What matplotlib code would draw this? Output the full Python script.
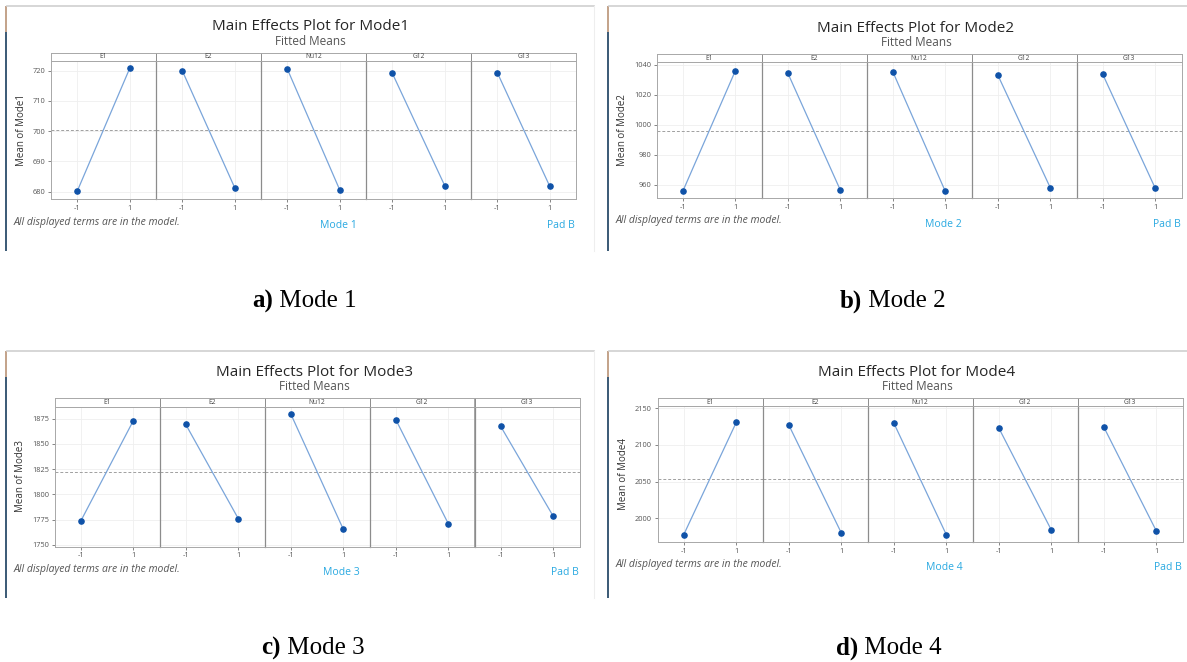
import matplotlib
matplotlib.use('Agg')
import matplotlib.pyplot as plt
from matplotlib.lines import Line2D
from matplotlib.patches import Rectangle

# 因子名称与各模态的拟合均值（低水平 -1 / 高水平 1）
factors = ['E1', 'E2', 'Nu12', 'G12', 'G13']
levels = [-1, 1]

mode1_low = [680.2, 720.0, 720.6, 719.2, 719.4]
mode1_high = [720.8, 681.3, 680.6, 682.0, 681.8]
mode1_mean = 700.4

mode2_low = [955.7, 1034.7, 1035.6, 1033.4, 1033.8]
mode2_high = [1036.0, 956.7, 955.8, 958.2, 957.8]
mode2_mean = 995.9

mode3_low = [1773.5, 1869.4, 1879.9, 1874.3, 1867.4]
mode3_high = [1873.0, 1776.0, 1765.5, 1771.0, 1778.3]
mode3_mean = 1822.6

mode4_low = [1978.0, 2127.3, 2130.0, 2123.2, 2124.5]
mode4_high = [2130.7, 1980.5, 1978.2, 1984.5, 1983.2]
mode4_mean = 2053.5

mode_names = ['Mode1', 'Mode2', 'Mode3', 'Mode4']
captions = ['a', 'b', 'c', 'd']
lows = [mode1_low, mode2_low, mode3_low, mode4_low]
highs = [mode1_high, mode2_high, mode3_high, mode4_high]
means = [mode1_mean, mode2_mean, mode3_mean, mode4_mean]
yticks = [[680, 690, 700, 710, 720],
          [960, 980, 1000, 1020, 1040],
          [1750, 1775, 1800, 1825, 1850, 1875],
          [2000, 2050, 2100, 2150]]

# 每个面板的像素布局：截图框 (x0, y0, x1, y1)，绘图区左边、条带顶、条带底、底边，y 轴范围，图注分隔位置
panels = [
    dict(frame=(5, 6, 594, 251), left=51, stop=53, sbot=61, bot=199,
         ylim=(677.6, 723.2), cap=273),
    dict(frame=(607, 6, 1187, 251), left=656.5, stop=54, sbot=62, bot=198,
         ylim=(951.3, 1042), cap=862),
    dict(frame=(5, 351, 594, 598), left=54.5, stop=398, sbot=406.5, bot=546.5,
         ylim=(1748.3, 1887.2), cap=281),
    dict(frame=(607, 351, 1187, 598), left=657.5, stop=398, sbot=406, bot=542,
         ylim=(1968, 2153), cap=858),
]
sub_w = 105

W, H = 1187, 662
plt.rcParams['font.family'] = ['Open Sans', 'DejaVu Sans']
fig = plt.figure(figsize=(W / 100, H / 100), dpi=100)
fig.patch.set_facecolor('white')


def px_axes(x, y, w, h):
    return fig.add_axes([x / W, 1 - (y + h) / H, w / W, h / H])


def px_text(x, y, s, **kw):
    fig.text(x / W, 1 - y / H, s, **kw)


line_c = '#7aa5da'
dot_c = '#0f52a8'
frame_c = '#a8a8a8'
cyan = '#29a9e1'

for k, p in enumerate(panels):
    x0, y0, x1, y1 = p['frame']
    # 截图边框：左侧色条与顶部灰线
    fig.add_artist(Rectangle((x0 / W, 1 - y1 / H), 2.2 / W, (y1 - y0) / H,
                             transform=fig.transFigure, color='#3f5d78', lw=0))
    fig.add_artist(Rectangle((x0 / W, 1 - (y0 + 26) / H), 2.2 / W, 26 / H,
                             transform=fig.transFigure, color='#c4a48c', lw=0))
    fig.add_artist(Line2D([(x0 + 2) / W, x1 / W], [1 - y0 / H] * 2,
                          transform=fig.transFigure, color='#cfcfcf', lw=1.2))
    if x1 < W:
        fig.add_artist(Line2D([x1 / W] * 2, [1 - y0 / H, 1 - y1 / H],
                              transform=fig.transFigure, color='#eeeeee', lw=0.8))

    left, stop, sbot, bot = p['left'], p['stop'], p['sbot'], p['bot']
    cx = left + 5 * sub_w / 2
    name = mode_names[k]
    px_text(cx - 3, stop - 26, 'Main Effects Plot for ' + name, ha='center', va='center',
            fontsize=11, color='#262626')
    px_text(cx - 3, stop - 11.5, 'Fitted Means', ha='center', va='center',
            fontsize=8.5, color='#555555')

    for i, f in enumerate(factors):
        xl = left + i * sub_w
        ax = px_axes(xl, sbot, sub_w, bot - sbot)
        ax.plot(levels, [lows[k][i], highs[k][i]], color=line_c, lw=0.9, zorder=2)
        ax.scatter(levels, [lows[k][i], highs[k][i]], s=14, color=dot_c, zorder=3)
        ax.axhline(means[k], color='#a0a0a0', lw=0.7, ls=(0, (3, 2)), zorder=1)
        ax.set_xlim(-2, 2)
        ax.set_ylim(*p['ylim'])
        ax.set_xticks(levels)
        ax.set_xticklabels(['-1', '1'])
        ax.set_yticks(yticks[k])
        ax.grid(True, color='#efefef', lw=0.6)
        ax.set_axisbelow(True)
        ax.tick_params(axis='both', labelsize=5.3, colors='#555555', length=2, width=0.5,
                       pad=2)
        for s in ax.spines.values():
            s.set_color(frame_c)
            s.set_linewidth(0.7)
        if i > 0:
            ax.tick_params(axis='y', left=False, labelleft=False)
            ax.spines['left'].set_color('#8c8c8c')
            ax.spines['left'].set_linewidth(0.9)
        else:
            ax.set_ylabel('Mean of ' + name, fontsize=7, color='#333333', labelpad=4)

        sax = px_axes(xl, stop, sub_w, sbot - stop)
        sax.set_xticks([])
        sax.set_yticks([])
        for s in sax.spines.values():
            s.set_color(frame_c)
            s.set_linewidth(0.7)
        if i > 0:
            sax.spines['left'].set_color('#8c8c8c')
        sax.text(0.5, 0.5, f, ha='center', va='center', fontsize=4.8, color='#444444',
                 transform=sax.transAxes)

    fy = bot + 23
    px_text(x0 + 9, fy, 'All displayed terms are in the model.', ha='left', va='center',
            fontsize=7.5, style='italic', color='#555555')
    px_text(left + 287, fy + 3, 'Mode ' + name[-1], ha='center', va='center',
            fontsize=7.5, color=cyan)
    px_text(left + 510, fy + 3, 'Pad B', ha='center', va='center',
            fontsize=7.5, color=cyan)

    # 图注
    cap_x = p['cap']
    cap_y = y1 + 50
    fig.text(cap_x / W, 1 - cap_y / H, captions[k] + ')', ha='right', va='center',
             fontsize=18, fontweight='bold', family='Liberation Serif')
    fig.text(cap_x / W, 1 - cap_y / H, ' Mode ' + name[-1], ha='left', va='center',
             fontsize=18, family='Liberation Serif')

fig.savefig('out.png', dpi=100, facecolor='white')
